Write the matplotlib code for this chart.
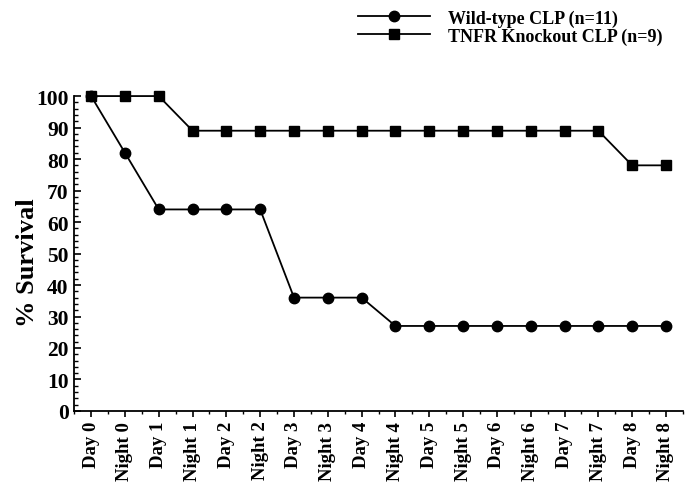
import matplotlib
matplotlib.use("Agg")
import matplotlib.pyplot as plt
from matplotlib.ticker import MultipleLocator

categories = ["Day 0", "Night 0", "Day 1", "Night 1", "Day 2", "Night 2", "Day 3", "Night 3",
              "Day 4", "Night 4", "Day 5", "Night 5", "Day 6", "Night 6", "Day 7", "Night 7",
              "Day 8", "Night 8"]
wild_type = [100, 82, 64, 64, 64, 64, 36, 36, 36, 27, 27, 27, 27, 27, 27, 27, 27, 27]
tnfr_ko = [100, 100, 100, 89, 89, 89, 89, 89, 89, 89, 89, 89, 89, 89, 89, 89, 78, 78]
series_labels = ["Wild-type CLP (n=11)", "TNFR Knockout CLP (n=9)"]
yticks = [0, 10, 20, 30, 40, 50, 60, 70, 80, 90, 100]

plt.rcParams['font.family'] = ['Liberation Serif', 'DejaVu Serif']
plt.rcParams['font.weight'] = 'bold'

fig = plt.figure(figsize=(6.87, 4.89), dpi=100)
ax = fig.add_axes([0.108, 0.1575, 0.886, 0.644])

x = list(range(len(categories)))
l1, = ax.plot(x, wild_type, color='black', lw=1.3, marker='o', ms=7.5, clip_on=False, zorder=3)
l2, = ax.plot(x, tnfr_ko, color='black', lw=1.3, marker='s', ms=7.5, clip_on=False, zorder=3)

ax.set_xlim(-0.5, len(categories) - 0.5)
ax.set_ylim(0, 100)
ax.set_xticks(x)
ax.set_xticklabels(categories, rotation=90, fontsize=13.5, fontweight='bold')
ax.set_yticks(yticks)
ax.set_yticklabels([str(v) for v in yticks], fontsize=15.5, fontweight='bold')
ax.yaxis.set_minor_locator(MultipleLocator(2))
ax.xaxis.set_minor_locator(MultipleLocator(0.5))

for s in ['top', 'right']:
    ax.spines[s].set_visible(False)
for s in ['left', 'bottom']:
    ax.spines[s].set_linewidth(1.3)

ax.tick_params(axis='y', which='major', direction='in', length=5, width=1.2, pad=4)
ax.tick_params(axis='y', which='minor', direction='in', length=3, width=1.0)
ax.tick_params(axis='x', which='major', direction='out', length=4, width=1.2, pad=3)
ax.tick_params(axis='x', which='minor', direction='out', length=2, width=1.0)

ax.set_ylabel("% Survival", fontsize=19, fontweight='bold')
ax.yaxis.set_label_coords(-0.058, 0.475)

fig.legend([l1, l2], series_labels, loc='upper left', bbox_to_anchor=(0.502, 1.005),
           frameon=False, handlelength=4.0, handletextpad=1.0,
           labelspacing=0.05, borderaxespad=0.3, prop={'weight': 'bold', 'size': 13})

fig.savefig("out.png", dpi=100)
